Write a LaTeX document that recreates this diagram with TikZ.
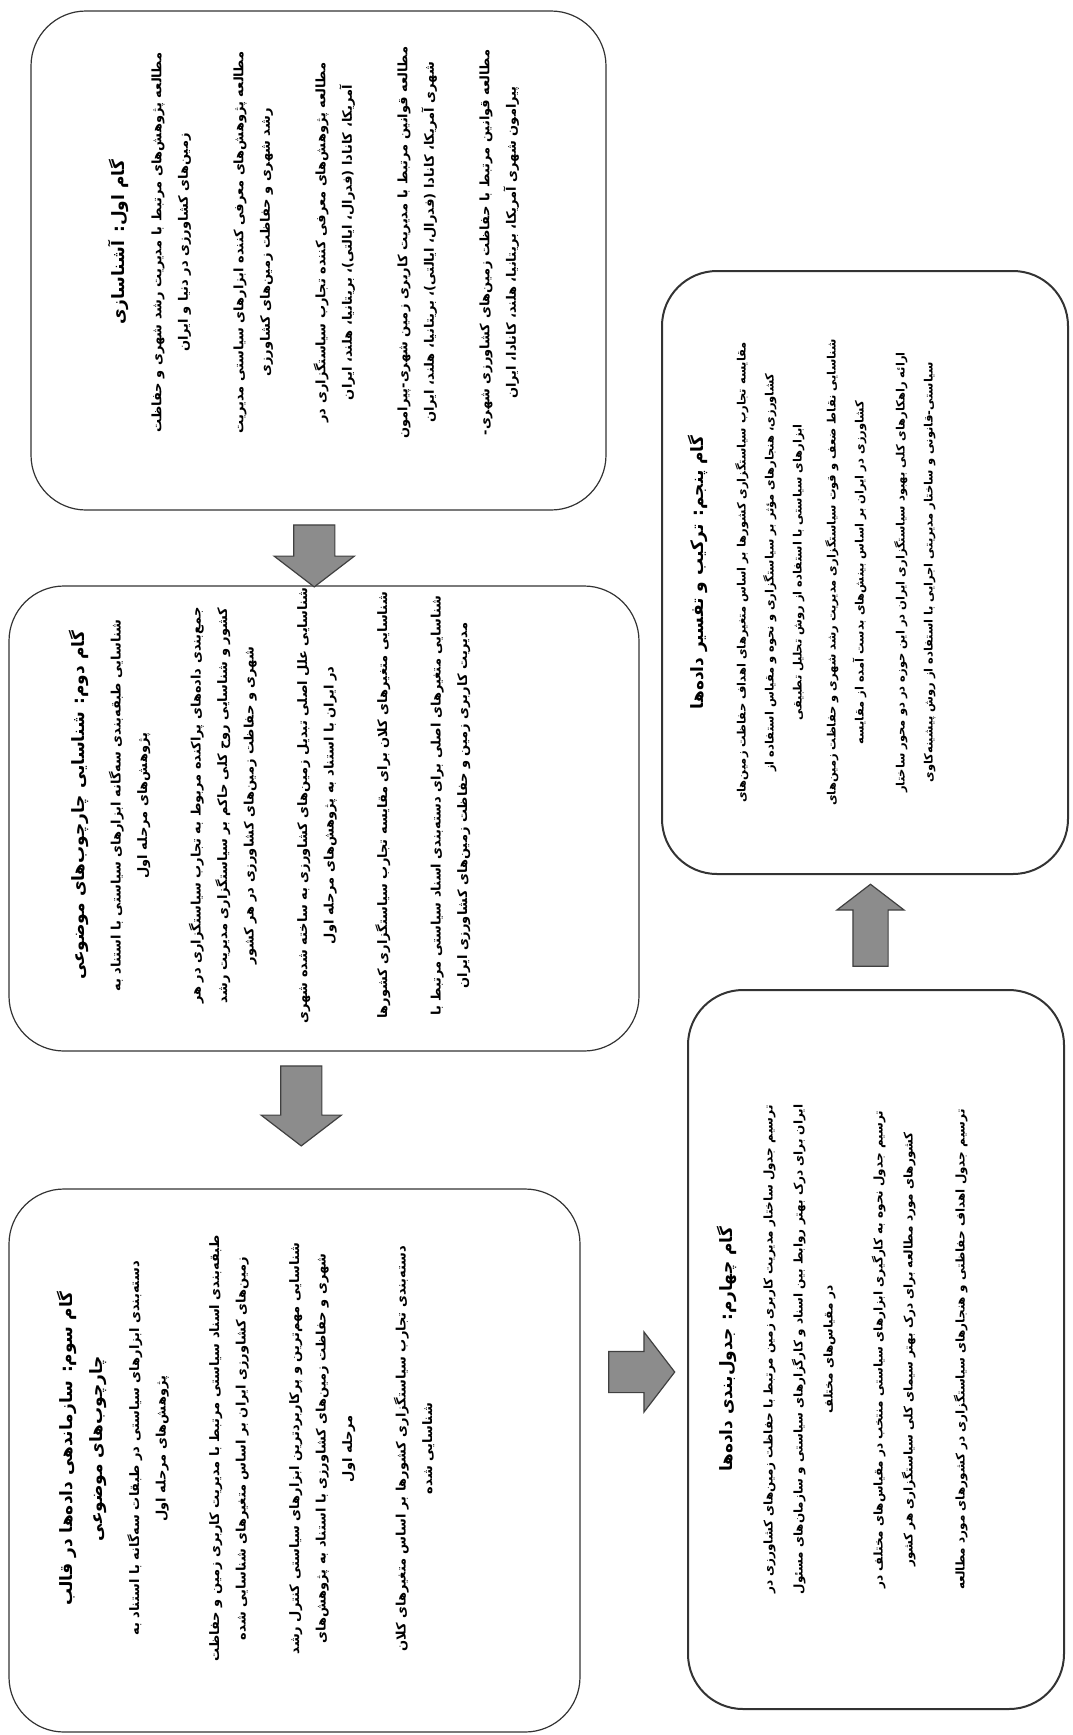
\documentclass[tikz,border=0pt]{standalone}
\usepackage{fontspec}
\usepackage{tikz}
\usetikzlibrary{shapes.arrows,calc}
\TeXXeTstate=1
\newfontfamily\farsi[Script=Arabic]{DejaVu Sans}
\newcommand{\rtl}[1]{\beginR #1\endR}
\newcommand{\steptitle}[1]{{\fontsize{17}{20}\selectfont\rtl{#1}}}
\tikzset{
  stepbox/.style={draw=black!80, line width=1.2pt, rounded corners=55pt, inner sep=0pt},
  steptext/.style={rotate=90, anchor=north, align=center, inner sep=0pt,
    font=\farsi\bfseries\fontsize{13}{26.5}\selectfont},
  bigarrow/.style={single arrow, draw=black!75, line width=1.2pt, fill=black!45,
    inner xsep=0pt, inner ysep=20pt, single arrow head extend=19.5pt,
    single arrow tip angle=105, minimum height=62pt}
}

\begin{document}
\begin{tikzpicture}[x=1pt,y=1pt]
        \useasboundingbox (0,0) rectangle (1072,-1735);
        % boxes of the five steps
        \node[stepbox, minimum width=575pt, minimum height=499pt] (s1) at (318.5,-260.5) {};
        \node[stepbox, minimum width=630pt, minimum height=465pt] (s2) at (324,-818.5) {};
        \node[stepbox, minimum width=571pt, minimum height=543pt] (s3) at (294.5,-1460.5) {};
        \node[stepbox, line width=2pt, minimum width=376pt, minimum height=719pt] (s4) at (876,-1349.5) {};
        \node[stepbox, line width=2pt, minimum width=406pt, minimum height=603pt] (s5) at (865,-572.5) {};

        % step 1
        \node[steptext] (t1) at ($(s1.west)+(78,18)$) {\steptitle{گام اول: آشناسازی}\\[10pt]
            \rtl{مطالعه پژوهش‌های مرتبط با مدیریت رشد شهری و حفاظت}\\
            \rtl{زمین‌های کشاورزی در دنیا و ایران}\\[29pt]
            \rtl{مطالعه پژوهش‌های معرفی کننده ابزارهای سیاستی مدیریت}\\
            \rtl{رشد شهری و حفاظت زمین‌های کشاورزی}\\[29pt]
            \rtl{مطالعه پژوهش‌های معرفی کننده تجارب سیاستگزاری در}\\
            \rtl{آمریکا، کانادا (فدرال، ایالتی)، بریتانیا، هلند، ایران}\\[29pt]
            \rtl{مطالعه قوانین مرتبط با مدیریت کاربری زمین شهری-پیرامون}\\
            \rtl{شهری آمریکا، کانادا (فدرال، ایالتی)، بریتانیا، هلند، ایران}\\[29pt]
            \rtl{مطالعه قوانین مرتبط با حفاظت زمین‌های کشاورزی شهری-}\\
            \rtl{پیرامون شهری آمریکا، بریتانیا، هلند، کانادا، ایران}};

        % step 2
        \node[steptext] (t2) at ($(s2.west)+(60,13)$) {\steptitle{گام دوم: شناسایی چارچوب‌های موضوعی}\\[10pt]
            \rtl{شناسایی طبقه‌بندی سه‌گانه ابزارهای سیاستی با استناد به}\\
            \rtl{پژوهش‌های مرحله اول}\\[27pt]
            \rtl{جمع‌بندی داده‌های پراکنده مربوط به تجارب سیاستگزاری در هر}\\
            \rtl{کشور و شناسایی روح کلی حاکم بر سیاستگزاری مدیریت رشد}\\
            \rtl{شهری و حفاظت زمین‌های کشاورزی در هر کشور}\\[27pt]
            \rtl{شناسایی علل اصلی تبدیل زمین‌های کشاورزی به ساخته شده شهری}\\
            \rtl{در ایران با استناد به پژوهش‌های مرحله اول}\\[27pt]
            \rtl{شناسایی متغیرهای کلان برای مقایسه تجارب سیاستگزاری کشورها}\\[27pt]
            \rtl{شناسایی متغیرهای اصلی برای دسته‌بندی اسناد سیاستی مرتبط با}\\
            \rtl{مدیریت کاربری زمین و حفاظت زمین‌های کشاورزی ایران}};

        % step 3
        \node[steptext] (t3) at ($(s3.west)+(48,12)$) {\steptitle{گام سوم: سازماندهی داده‌ها در قالب}\\[4pt]
            \steptitle{چارچوب‌های موضوعی}\\[10pt]
            \rtl{دسته‌بندی ابزارهای سیاستی در طبقات سه‌گانه با استناد به}\\
            \rtl{پژوهش‌های مرحله اول}\\[27pt]
            \rtl{طبقه‌بندی اسناد سیاستی مرتبط با مدیریت کاربری زمین و حفاظت}\\
            \rtl{زمین‌های کشاورزی ایران بر اساس متغیرهای شناسایی شده}\\[27pt]
            \rtl{شناسایی مهم‌ترین و پرکاربردترین ابزارهای سیاستی کنترل رشد}\\
            \rtl{شهری و حفاظت زمین‌های کشاورزی با استناد به پژوهش‌های}\\
            \rtl{مرحله اول}\\[27pt]
            \rtl{دسته‌بندی تجارب سیاستگزاری کشورها بر اساس متغیرهای کلان}\\
            \rtl{شناسایی شده}};

        % step 4
        \node[steptext, font=\farsi\bfseries\fontsize{12}{30}\selectfont] (t4) at ($(s4.west)+(30,0)$) {\steptitle{گام چهارم: جدول‌بندی داده‌ها}\\[10pt]
            \rtl{ترسیم جدول ساختار مدیریت کاربری زمین مرتبط با حفاظت زمین‌های کشاورزی در}\\
            \rtl{ایران برای درک بهتر روابط بین اسناد و کارگزارهای سیاستی و سازمان‌های مسئول}\\
            \rtl{در مقیاس‌های مختلف}\\[20pt]
            \rtl{ترسیم جدول نحوه به کارگیری ابزارهای سیاستی منتخب در مقیاس‌های مختلف در}\\
            \rtl{کشورهای مورد مطالعه برای درک بهتر سیمای کلی سیاستگزاری هر کشور}\\[22pt]
            \rtl{ترسیم جدول اهداف حفاظتی و هنجارهای سیاستگزاری در کشورهای مورد مطالعه}};

        % step 5
        \node[steptext, font=\farsi\bfseries\fontsize{11.5}{28}\selectfont] (t5) at ($(s5.west)+(27,0)$) {\steptitle{گام پنجم: ترکیب و تفسیر داده‌ها}\\[14pt]
            \rtl{مقایسه تجارب سیاستگزاری کشورها بر اساس متغیرهای اهداف حفاظت زمین‌های}\\
            \rtl{کشاورزی، هنجارهای مؤثر بر سیاستگزاری و نحوه و مقیاس استفاده از}\\
            \rtl{ابزارهای سیاستی با استفاده از روش تحلیل تطبیقی}\\[6pt]
            \rtl{شناسایی نقاط ضعف و قوت سیاستگزاری مدیریت رشد شهری و حفاظت زمین‌های}\\
            \rtl{کشاورزی در ایران بر اساس بینش‌های بدست آمده از مقایسه}\\[13pt]
            \rtl{ارائه راهکارهای کلی بهبود سیاستگزاری ایران در این حوزه در دو محور ساختار}\\
            \rtl{سیاستی-قانونی و ساختار مدیریتی اجرایی با استفاده از روش پیشینه‌کاوی}};

        % arrows between the steps
        \node[bigarrow, rotate=-90] (a12) at ($(s1.south)!0.5!(s2.north)+(-7,0)$) {};
        \node[bigarrow, rotate=-90, minimum height=80pt] (a23) at ($(s2.south)!0.5!(s3.north)+(-8,22)$) {};
        \node[bigarrow, minimum height=66pt] (a34) at ($(s3.east)!0.5!(s4.west)+(0,33)$) {};
        \node[bigarrow, rotate=90, minimum height=82pt, inner ysep=17pt,
            single arrow head extend=16pt] (a45) at ($(s4.north)!0.5!(s5.south)$) {};
\end{tikzpicture}
\end{document}
